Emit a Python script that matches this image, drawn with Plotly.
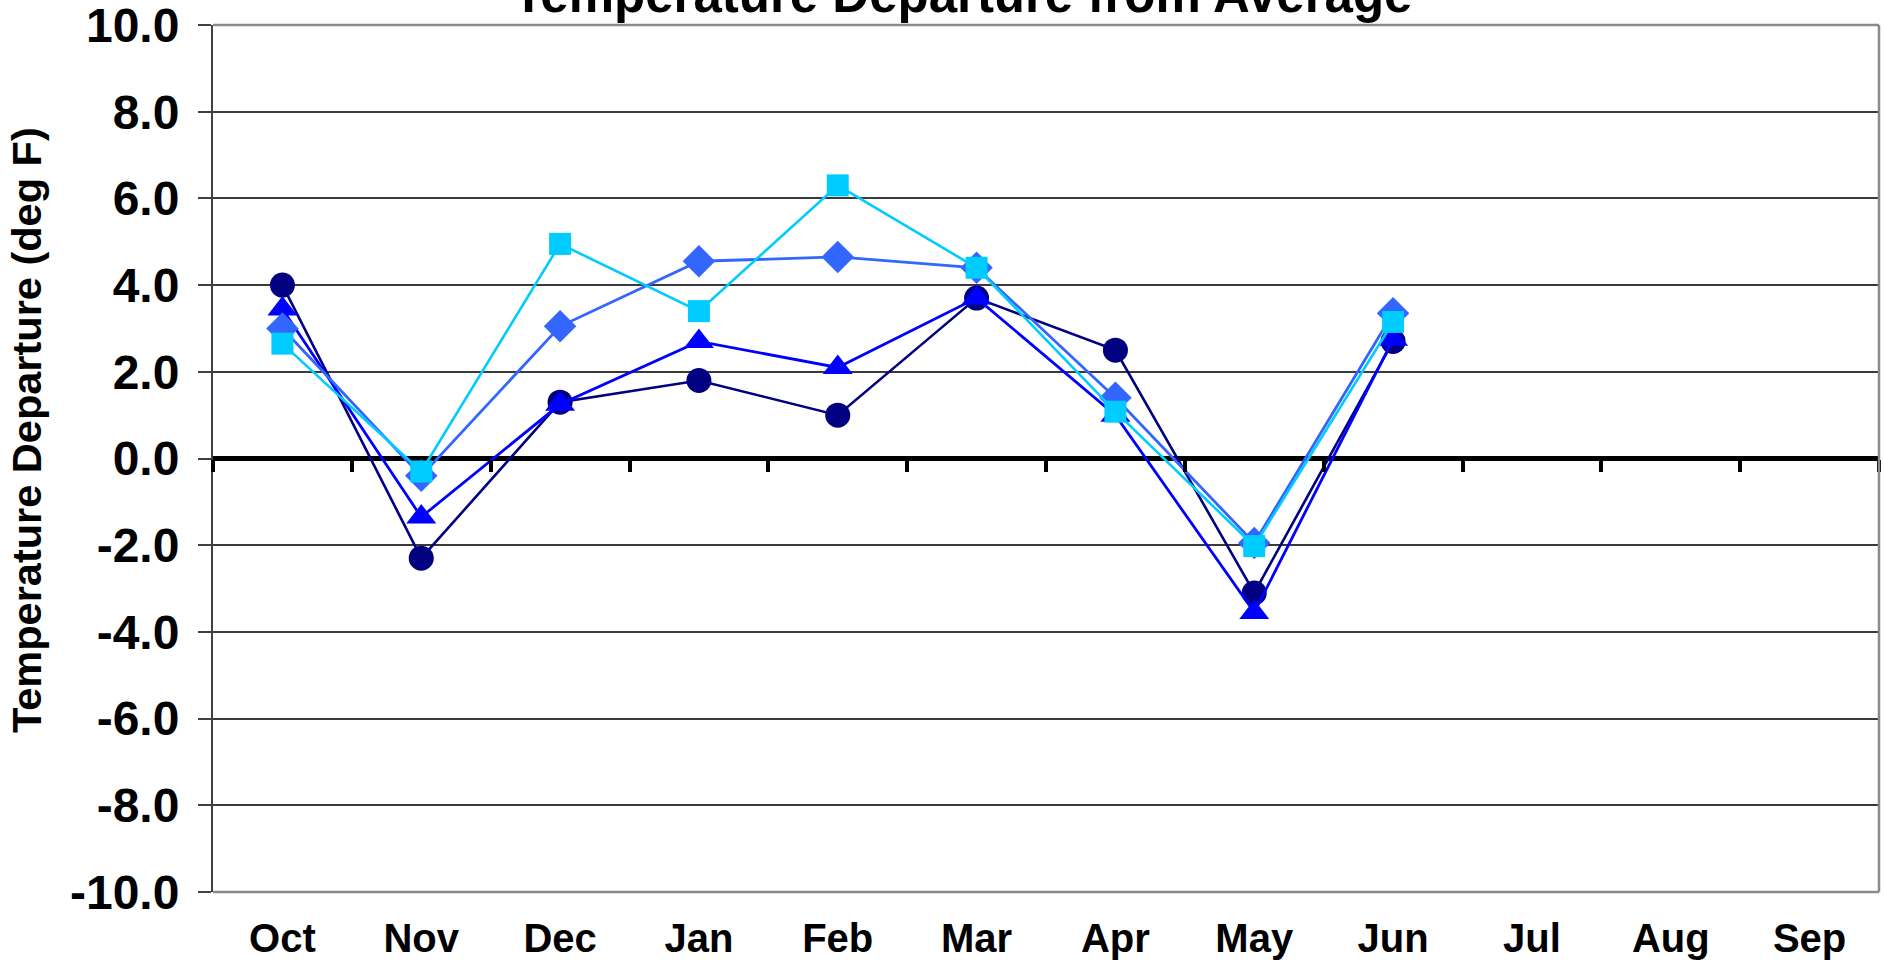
import plotly.graph_objects as go

months = ["Oct", "Nov", "Dec", "Jan", "Feb", "Mar", "Apr", "May", "Jun", "Jul", "Aug", "Sep"]

series_circle = [4.0, -2.3, 1.3, 1.8, 1.0, 3.7, 2.5, -3.1, 2.7, None, None, None]
series_triangle = [3.45, -1.35, 1.25, 2.7, 2.1, 3.7, 1.0, -3.55, 2.75, None, None, None]
series_diamond = [3.0, -0.4, 3.05, 4.55, 4.65, 4.4, 1.4, -1.95, 3.35, None, None, None]
series_square = [2.65, -0.3, 4.95, 3.4, 6.3, 4.4, 1.08, -2.02, 3.15, None, None, None]

series_names = ["Series 1", "Series 2", "Series 3", "Series 4"]

y_ticks = [-10, -8, -6, -4, -2, 0, 2, 4, 6, 8, 10]
y_tick_labels = [f"{v:.1f}" for v in y_ticks]

title_text = "Temperature Departure from Average"
y_title_text = "Temperature Departure (deg F)"

FONT = "Liberation Sans, Arial, sans-serif"

styles = [
    dict(color="#000080", symbol="circle", size=25, width=2.6),
    dict(color="#0000FF", symbol="triangle-up", size=26, width=2.8),
    dict(color="#3366FF", symbol="diamond", size=25, width=2.8),
    dict(color="#00CCFF", symbol="square", size=22, width=2.6),
]

fig = go.Figure()

for name, vals, st in zip(series_names,
                          [series_circle, series_triangle, series_diamond, series_square],
                          styles):
    fig.add_trace(go.Scatter(
        x=months, y=vals, name=name, mode="lines+markers",
        line=dict(color=st["color"], width=st["width"]),
        marker=dict(symbol=st["symbol"], size=st["size"], color=st["color"],
                    line=dict(width=0)),
        connectgaps=False,
    ))

# helper trace for the zero-crossing tick axis
fig.add_trace(go.Scatter(x=months, y=[None] * len(months), xaxis="x2", mode="lines",
                         showlegend=False, hoverinfo="skip"))

PLOT_H = 961 - 25 - 69

fig.update_layout(
    width=1884, height=961,
    margin=dict(l=213, r=5, t=25, b=69),
    paper_bgcolor="white", plot_bgcolor="white",
    showlegend=False,
    xaxis=dict(
        type="category", categoryorder="array", categoryarray=months,
        range=[-0.5, 11.5], automargin=False, ticklabeloverflow="allow",
        showgrid=False, showline=False, zeroline=False, ticks="",
        tickfont=dict(family=FONT, size=40, color="black", weight="bold"),
        ticklabelstandoff=19,
    ),
    xaxis2=dict(
        type="category", categoryorder="array", categoryarray=months,
        range=[-0.5, 11.5], overlaying="x", anchor="free", position=0.5,
        side="bottom", automargin=False,
        showgrid=False, showline=False, zeroline=False,
        ticks="outside", ticklen=12, tickwidth=4, tickcolor="black",
        tickson="boundaries", showticklabels=False,
    ),
    yaxis=dict(
        range=[-10, 10], tickmode="array", tickvals=y_ticks, ticktext=y_tick_labels,
        automargin=False, ticklabeloverflow="allow",
        showgrid=True, gridcolor="#3a3a3a", gridwidth=1.5,
        zeroline=True, zerolinecolor="black", zerolinewidth=5,
        showline=True, linecolor="#404040", linewidth=2,
        ticks="outside", ticklen=13, tickwidth=1.5, tickcolor="#404040",
        tickfont=dict(family=FONT, size=48, color="black", weight="bold"),
        ticklabelstandoff=9,
    ),
    shapes=[
        dict(type="line", xref="paper", yref="paper", x0=0, x1=1, y0=1, y1=1,
             line=dict(color="#8a8a8a", width=2.5), layer="above"),
        dict(type="line", xref="paper", yref="paper", x0=1, x1=1, y0=0, y1=1,
             line=dict(color="#8a8a8a", width=2.5), layer="above"),
        dict(type="line", xref="paper", yref="paper", x0=0, x1=1, y0=0, y1=0,
             line=dict(color="#8a8a8a", width=2.5), layer="above"),
    ],
    annotations=[
        dict(text=title_text, xref="paper", yref="paper",
             x=(962 - 213) / 1666, y=1.0, xanchor="center", yanchor="bottom",
             showarrow=False,
             font=dict(family=FONT, size=51, color="black", weight="bold")),
        dict(text=y_title_text, xref="paper", yref="paper",
             x=(26 - 213) / 1666, y=(892 - 430) / PLOT_H, xanchor="center", yanchor="middle",
             textangle=-90, showarrow=False,
             font=dict(family=FONT, size=41.5, color="black", weight="bold")),
    ],
)

fig.write_html(
    "out.html",
    config={"displayModeBar": False},
    post_script="document.body.style.margin='0px';document.body.style.overflow='hidden';",
)
